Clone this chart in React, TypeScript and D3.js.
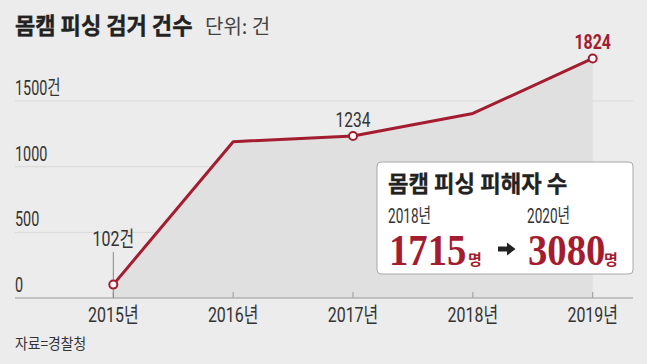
import React, { useEffect } from "react";
import * as d3 from "d3";

const years = ["2015", "2016", "2017", "2018", "2019"];
const counts = [102, 1190, 1234, 1405, 1824];
const labeledYears = ["2015", "2017", "2019"];
const pointLabels = ["102건", "1234", "1824"];
const yTicks = [0, 500, 1000, 1500];
const yTickLabels = ["0", "500", "1000", "1500건"];
const victimYears = ["2018년", "2020년"];
const victimCounts = [1715, 3080];

const W = 647;
const H = 364;
const RED = "#a31c2f";
const BG = "#ececec";
const SANS = "Roboto, 'Noto Sans CJK KR', sans-serif";
const KR = "'Noto Sans CJK KR', sans-serif";

function CText({ x, y, sx, children, anchor = "start", ...rest }: any) {
  return (
    <g transform={`translate(${x},${y}) scale(${sx},1)`}>
      <text x={0} y={0} textAnchor={anchor} {...rest}>
        {children}
      </text>
    </g>
  );
}

export default function App() {
  useEffect(() => {
    document.body.style.margin = "0";
  }, []);

  const x = d3.scalePoint<string>().domain(years).range([113.3, 592.7]);
  const y = d3.scaleLinear().domain([0, 1500]).range([298, 101]);
  const data = years.map((yr, i) => ({ yr, v: counts[i] }));

  const line = d3
    .line<{ yr: string; v: number }>()
    .x((d) => x(d.yr)!)
    .y((d) => y(d.v));
  const area = d3
    .area<{ yr: string; v: number }>()
    .x((d) => x(d.yr)!)
    .y0(y(0))
    .y1((d) => y(d.v));

  const pts = labeledYears.map((yr) => data.find((d) => d.yr === yr)!);

  return (
    <svg width={W} height={H} style={{ display: "block", background: BG }}>
      <rect x={0} y={0} width={W} height={H} fill={BG} />
      {/* title */}
      <CText x={15} y={34} sx={0.96} fontFamily={KR} fontWeight={700} fontSize={23} fill="#222" stroke="#222" strokeWidth={0.4}>
        몸캠 피싱 검거 건수
      </CText>
      <CText x={205} y={34} sx={1.0} fontFamily={KR} fontSize={20} fill="#444">
        단위: 건
      </CText>

      {/* grid */}
      {yTicks.slice(1).map((t) => (
        <line key={t} x1={15} x2={633} y1={y(t)} y2={y(t)} stroke="#d8d8d8" strokeWidth={1} />
      ))}
      {yTicks.map((t, i) => (
        <CText key={"l" + t} x={15} y={y(t) - 6} sx={0.72} fontFamily={SANS} fontSize={20} fill="#333">
          {yTickLabels[i]}
        </CText>
      ))}

      {/* area */}
      <path d={area(data)!} fill="#e0e0e0" />

      {/* axis */}
      <line x1={15} x2={633} y1={y(0)} y2={y(0)} stroke="#9a9a9a" strokeWidth={1} />
      {years.map((yr) => (
        <line key={yr} x1={x(yr)} x2={x(yr)} y1={y(0)} y2={y(0) - 6} stroke="#9a9a9a" strokeWidth={1} />
      ))}
      {years.map((yr) => (
        <CText key={"x" + yr} x={x(yr)} y={322} sx={0.76} anchor="middle" fontFamily={SANS} fontSize={21} fill="#333">
          {yr + "년"}
        </CText>
      ))}

      {/* leader for first label */}
      <line x1={x("2015")} x2={x("2015")} y1={252} y2={y(0)} stroke="#888" strokeWidth={1} />

      {/* line */}
      <path d={line(data)!} fill="none" stroke={RED} strokeWidth={3} strokeLinejoin="round" />
      {pts.map((d) => (
        <circle key={d.yr} cx={x(d.yr)} cy={y(d.v)} r={4} fill="#fff" stroke={RED} strokeWidth={2} />
      ))}

      {/* point labels */}
      <CText x={x("2015")} y={246} sx={0.76} anchor="middle" fontFamily={SANS} fontSize={21} fill="#333">
        {pointLabels[0]}
      </CText>
      <CText x={x("2017")} y={y(counts[2]) - 9} sx={0.74} anchor="middle" fontFamily={SANS} fontSize={21} fill="#333">
        {pointLabels[1]}
      </CText>
      <CText x={x("2019")} y={y(counts[4]) - 9} sx={0.76} anchor="middle" fontFamily={SANS} fontWeight={700} fontSize={21} fill={RED}>
        {pointLabels[2]}
      </CText>

      {/* box */}
      <rect x={377} y={162} width={256} height={112} rx={4} fill="#fff" stroke="#a8a8a8" strokeWidth={1} />
      <CText x={388} y={192} sx={0.97} fontFamily={KR} fontWeight={700} fontSize={23} fill="#222" stroke="#222" strokeWidth={0.3}>
        몸캠 피싱 피해자 수
      </CText>
      <CText x={388} y={223} sx={0.68} fontFamily={SANS} fontSize={20} fill="#333">
        {victimYears[0]}
      </CText>
      <CText x={527} y={223} sx={0.68} fontFamily={SANS} fontSize={20} fill="#333">
        {victimYears[1]}
      </CText>
      <CText x={389} y={265} sx={0.88} fontFamily="'Liberation Serif', serif" fontWeight={700} fontSize={44} fill={RED}>
        {String(victimCounts[0])}
      </CText>
      <CText x={468} y={265} sx={1} fontFamily={KR} fontWeight={700} fontSize={15} fill={RED}>
        명
      </CText>
      <path d="M498,246.5 L507,246.5 L507,242.5 L515.5,249 L507,255.5 L507,251.5 L498,251.5 Z" fill="#222" />
      <CText x={528} y={265} sx={0.88} fontFamily="'Liberation Serif', serif" fontWeight={700} fontSize={44} fill={RED}>
        {String(victimCounts[1])}
      </CText>
      <CText x={604} y={265} sx={1} fontFamily={KR} fontWeight={700} fontSize={15} fill={RED}>
        명
      </CText>

      {/* source */}
      <CText x={15} y={349} sx={0.92} fontFamily={KR} fontSize={15} fill="#333">
        자료=경찰청
      </CText>
    </svg>
  );
}
